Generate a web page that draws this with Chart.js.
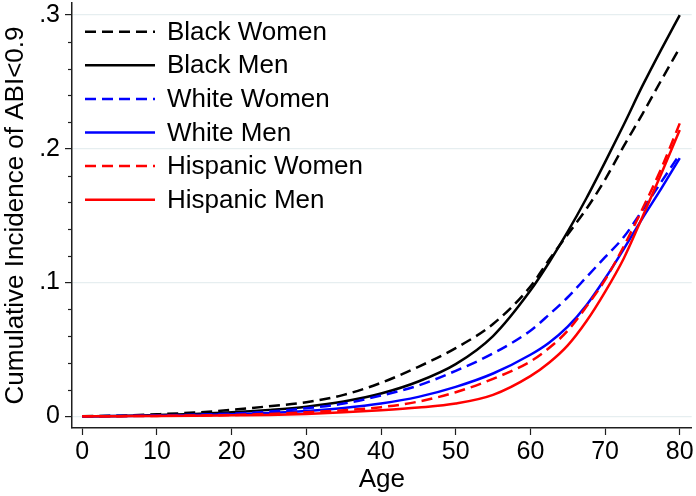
<!DOCTYPE html>
<html><head><meta charset="utf-8">
<script src="https://cdn.jsdelivr.net/npm/chart.js@4/dist/chart.umd.min.js"></script>
<style>html,body{margin:0;padding:0;background:#fff}#wrap{width:696px;height:496px}</style>
</head><body><div id="wrap"><canvas id="c" width="696" height="496"></canvas></div>
<script>
const ages = [0,5,10,15,20,25,30,35,40,45,50,55,60,62.5,65,67.5,70,72.5,75,77.5,80];
const blackWomen    = [0,0.0005,0.0015,0.0028,0.0048,0.0075,0.0105,0.016,0.025,0.037,0.051,0.069,0.097,0.117,0.136,0.155,0.177,0.202,0.226,0.251,0.2755];
const blackMen      = [0,0.0003,0.001,0.0018,0.003,0.0048,0.0072,0.011,0.017,0.026,0.039,0.060,0.094,0.115,0.138,0.163,0.190,0.218,0.247,0.274,0.300];
const whiteWomen    = [0,0.0002,0.0006,0.0012,0.002,0.0035,0.006,0.0095,0.0155,0.023,0.034,0.047,0.064,0.076,0.089,0.104,0.119,0.134,0.154,0.175,0.196];
const whiteMen      = [0,0.0002,0.0005,0.001,0.0015,0.0025,0.004,0.0062,0.0095,0.0145,0.022,0.032,0.046,0.055,0.067,0.083,0.103,0.125,0.148,0.170,0.193];
const hispanicWomen = [0,0.0001,0.0003,0.0006,0.001,0.0018,0.003,0.0045,0.0068,0.011,0.018,0.028,0.041,0.051,0.064,0.082,0.102,0.127,0.155,0.185,0.219];
const hispanicMen   = [0,0.0001,0.0002,0.0004,0.0007,0.001,0.0018,0.003,0.0045,0.0065,0.0095,0.016,0.030,0.040,0.053,0.071,0.093,0.118,0.149,0.181,0.214];

const seriesLabels = ['Black Women','Black Men','White Women','White Men','Hispanic Women','Hispanic Men'];
const seriesValues = [blackWomen, blackMen, whiteWomen, whiteMen, hispanicWomen, hispanicMen];
const seriesColors = ['#000000','#000000','#0000ff','#0000ff','#ff0000','#ff0000'];
const seriesDashed = [true,false,true,false,true,false];

const xTicks = [0,10,20,30,40,50,60,70,80];
const yTicks = [0,0.1,0.2,0.3];
const yTickLabels = ['0','.1','.2','.3'];
const yMinorTicks = [0.02,0.04,0.06,0.08,0.12,0.14,0.16,0.18,0.22,0.24,0.26,0.28];

const FONT = "'Liberation Sans', Arial, sans-serif";
const axisColor = '#1e1e1e';
const gridColor = '#e6eef0';
const DASH = [11,6];

const datasets = seriesLabels.map((lab,i)=>({
  label: lab,
  data: ages.map((a,j)=>({x:a, y:seriesValues[i][j]})),
  borderColor: seriesColors[i],
  backgroundColor: seriesColors[i],
  borderWidth: 2.5,
  borderDash: seriesDashed[i] ? DASH : [],
  pointRadius: 0,
  cubicInterpolationMode: 'monotone',
  fill: false,
  order: seriesLabels.length - 1 - i
}));

const minorTickPlugin = {
  id: 'minorTicks',
  afterDraw(chart){
    const ys = chart.scales.y, ctx = chart.ctx;
    ctx.save();
    ctx.strokeStyle = axisColor; ctx.lineWidth = 1.2;
    yMinorTicks.forEach(v=>{
      const py = Math.round(ys.getPixelForValue(v)) + 0.5;
      ctx.beginPath(); ctx.moveTo(ys.right - 4, py); ctx.lineTo(ys.right, py); ctx.stroke();
    });
    ctx.restore();
  }
};

const legendPlugin = {
  id: 'inLegend',
  afterDatasetsDraw(chart){
    const ctx = chart.ctx, area = chart.chartArea;
    ctx.save();
    ctx.font = '26px ' + FONT;
    ctx.textBaseline = 'middle';
    ctx.textAlign = 'left';
    chart.data.datasets.forEach((ds,i)=>{
      const yy = area.top + 28.7 + i*33.6;
      ctx.strokeStyle = ds.borderColor; ctx.lineWidth = ds.borderWidth;
      ctx.setLineDash(ds.borderDash || []);
      ctx.beginPath(); ctx.moveTo(area.left + 13, yy); ctx.lineTo(area.left + 83, yy); ctx.stroke();
      ctx.setLineDash([]);
      ctx.fillStyle = '#000';
      ctx.fillText(ds.label, area.left + 95, yy + 1);
    });
    ctx.restore();
  }
};

new Chart(document.getElementById('c'), {
  type: 'line',
  data: { datasets },
  plugins: [minorTickPlugin, legendPlugin],
  options: {
    responsive: false,
    animation: false,
    devicePixelRatio: 1,
    layout: { padding: { top: 3, right: 4.3, bottom: 0, left: 0 } },
    plugins: { legend: { display: false }, tooltip: { enabled: false } },
    scales: {
      x: {
        type: 'linear', min: -1.38, max: 81.6,
        afterBuildTicks: s => { s.ticks = xTicks.map(v=>({value:v})); },
        afterFit: s => { s.height = 68; s.paddingLeft = 0; s.paddingRight = 0; },
        ticks: { font: { size: 25, family: FONT }, color: '#000', padding: 2, maxRotation: 0, autoSkip: false },
        grid: { drawOnChartArea: false, drawTicks: true, tickLength: 7, tickColor: axisColor, tickWidth: 1.2 },
        border: { display: true, color: axisColor, width: 1.5 },
        title: { display: true, text: 'Age', color: '#000', font: { size: 26, family: FONT }, padding: { top: 0, bottom: 1 } }
      },
      y: {
        type: 'linear', min: -0.00875, max: 0.309,
        afterBuildTicks: s => { s.ticks = yTicks.map(v=>({value:v})); },
        afterFit: s => { s.width = 72; s.paddingTop = 0; s.paddingBottom = 0; },
        ticks: { font: { size: 25, family: FONT }, color: '#000', padding: 5,
                 callback: (v, i) => yTickLabels[i] },
        grid: { color: gridColor, lineWidth: 1.2, drawTicks: true, tickLength: 7, tickColor: axisColor, tickWidth: 1.2 },
        border: { display: true, color: axisColor, width: 1.5 },
        title: { display: true, text: 'Cumulative Incidence of ABI<0.9', color: '#000', font: { size: 26, family: FONT }, padding: { top: 0, bottom: 0 } }
      }
    }
  }
});
</script>
</body></html>
